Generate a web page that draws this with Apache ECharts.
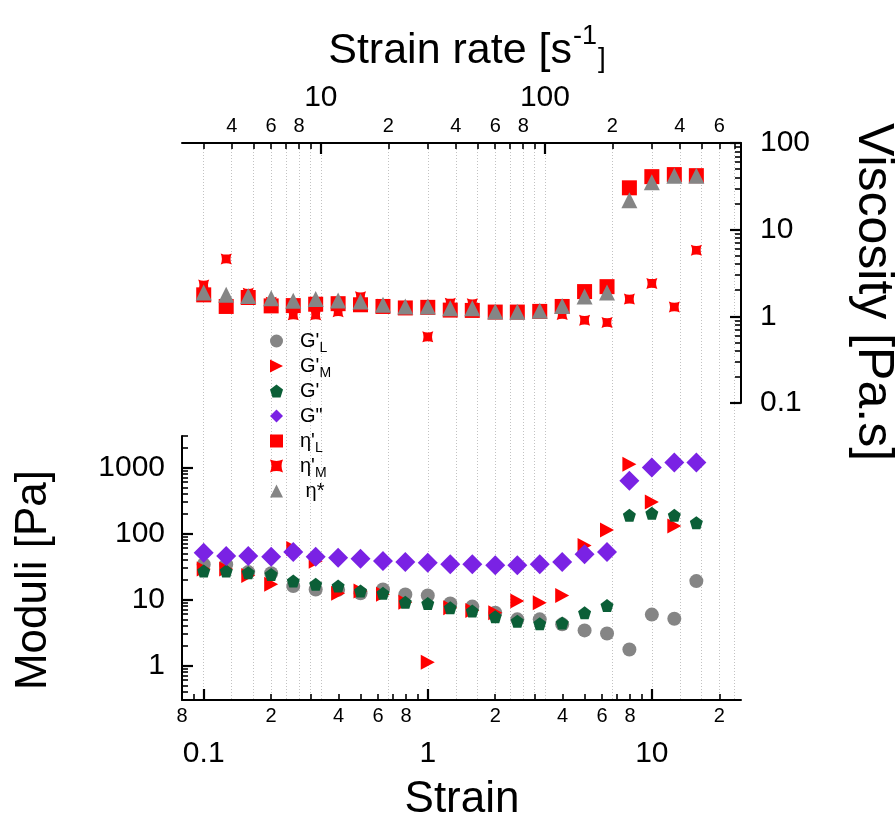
<!DOCTYPE html>
<html>
<head>
<meta charset="utf-8">
<script src="https://cdn.jsdelivr.net/npm/echarts@6/dist/echarts.min.js"></script>
<style>html,body{margin:0;padding:0;background:#fff}#c{width:895px;height:819px}</style>
</head>
<body>
<div id="c"></div>
<script>
// ---------------- data ----------------
const strain = [0.1,0.126,0.158,0.2,0.251,0.316,0.398,0.501,0.631,0.794,1.0,1.26,1.58,2.0,2.51,3.16,3.98,5.01,6.31,7.94,10.0,12.6,15.8];
const storageL = [34,34,26,25,16,14.2,14,12.4,14.2,11.9,11.5,8.7,7.8,6.3,5.0,5.0,4.2,3.4,3.06,1.75,5.9,5.1,19];
const storageM = [29,29,23,17,59,38,12.4,13.4,12,9.1,1.12,7.5,6.8,6.3,9.5,8.9,11.5,66,113,1120,301,130,null];
const storage = [27,27,25.5,24,19,17,16,13.4,12.4,9.1,8.7,7.5,6.7,5.5,4.7,4.3,4.4,6.3,8.1,189,203,189,146];
const loss = [51,45.6,45.6,44.6,52.5,44.6,43,41.6,38.3,37,36.1,34.1,34.1,32.9,32.9,34.1,37,48.3,52.5,627,1000,1190,1190];
const etaL = [1.77,1.30,1.65,1.32,1.33,1.38,1.40,1.36,1.30,1.25,1.27,1.18,1.17,1.12,1.12,1.14,1.30,1.93,2.2,30.4,40.9,43.2,42];
const etaM = [2.3,4.6,1.85,1.45,1.04,1.04,1.13,1.68,1.38,1.28,0.58,1.42,1.40,1.15,1.13,1.16,1.05,0.90,0.85,1.58,2.4,1.28,5.8];
const etaStar = [1.88,1.77,1.72,1.62,1.51,1.58,1.52,1.48,1.36,1.30,1.30,1.24,1.24,1.14,1.13,1.16,1.32,1.69,1.88,21.8,35.3,42,42];

const seriesNames = ["G'L", "G'M", "G'", 'G"', "η'L", "η'M", "η*"];

// ---------------- axes / ticks ----------------
const strainMin = 0.08, strainMax = 25;
const ratePerStrain = 30;
const viscMin = 0.1, viscMax = 100;
const moduliMin = 0.3, moduliMax = 3000;

const strainMinorTicks = [0.08,0.09,0.2,0.3,0.4,0.5,0.6,0.7,0.8,0.9,2,3,4,5,6,7,8,9,20];
const strainMajorTicks = [0.1,1,10];
const strainSmallLabelAt = [0.08,0.2,0.4,0.6,0.8,2,4,6,8,20];
const strainSmallLabels = ['8','2','4','6','8','2','4','6','8','2'];
const strainBigLabels = ['0.1','1','10'];

const rateMinorTicks = [3,4,5,6,7,8,9,20,30,40,50,60,70,80,90,200,300,400,500,600,700];
const rateMajorTicks = [10,100];
const rateSmallLabelAt = [4,6,8,20,40,60,80,200,400,600];
const rateSmallLabels = ['4','6','8','2','4','6','8','2','4','6'];
const rateBigLabels = ['10','100'];

const moduliMinorTicks = [0.3,0.4,0.5,0.6,0.7,0.8,0.9,2,3,4,5,6,7,8,9,20,30,40,50,60,70,80,90,200,300,400,500,600,700,800,900,2000,3000];
const moduliMajorTicks = [1,10,100,1000];
const moduliLabels = ['1','10','100','1000'];

const viscMinorTicks = [0.2,0.3,0.4,0.5,0.6,0.7,0.8,0.9,2,3,4,5,6,7,8,9,20,30,40,50,60,70,80,90];
const viscMajorTicks = [0.1,1,10,100];
const viscLabels = ['0.1','1','10','100'];

// ---------------- build ----------------
const FF = "'Liberation Sans', Arial, Helvetica, sans-serif";
const L = Math.log10;
const rateToStrainLog = r => L(r / ratePerStrain);

function fmt(pos, texts) {
  return function (v) {
    for (let i = 0; i < pos.length; i++) if (Math.abs(pos[i] - v) < 1e-6) return texts[i];
    return '';
  };
}

const G_TOP = {left: 182, top: 143, width: 559, height: 260};
const G_BOT = {left: 182, top: 436, width: 559, height: 264};
const G_ALL = {left: 182, top: 143, width: 559, height: 557};

function deco(o) {
  return {
    type: 'value', min: o.min, max: o.max, gridIndex: o.grid, position: o.position,
    axisLine: {show: !!o.line, onZero: false, lineStyle: {color: '#000', width: 2}},
    axisTick: {show: !!o.ticks, inside: true, length: o.len || 6, customValues: o.ticks || o.grid_ticks,
      lineStyle: {color: '#000', width: o.tw || 1.6}},
    axisLabel: o.labels ? {show: true, customValues: o.labels, formatter: fmt(o.labels, o.texts),
      color: '#000', fontFamily: FF, fontSize: o.fs, margin: o.margin, showMinLabel: true, showMaxLabel: true, hideOverlap: false}
      : {show: false},
    splitLine: o.split ? {show: true, lineStyle: {color: '#c2c2c2', width: 1, type: [1, 2]}} : {show: false},
    splitArea: {show: false},
    minorTick: {show: false}, minorSplitLine: {show: false}
  };
}

const xs = [L(strainMin), L(strainMax)];
const gridLinesPos = rateMinorTicks.concat(rateMajorTicks).map(rateToStrainLog);

const xAxis = [
  {type: 'log', gridIndex: 0, min: strainMin, max: strainMax, show: false, axisLine: {onZero: false}},
  {type: 'log', gridIndex: 1, min: strainMin, max: strainMax, show: false, axisLine: {onZero: false}},
  deco({grid: 2, min: xs[0], max: xs[1], position: 'bottom', line: true, ticks: strainMinorTicks.map(L), len: 6,
        labels: strainSmallLabelAt.map(L), texts: strainSmallLabels, fs: 20, margin: 6}),
  deco({grid: 2, min: xs[0], max: xs[1], position: 'bottom', ticks: strainMajorTicks.map(L), len: 11, tw: 2.2,
        labels: strainMajorTicks.map(L), texts: strainBigLabels, fs: 30, margin: 39}),
  deco({grid: 2, min: xs[0], max: xs[1], position: 'top', line: true, ticks: rateMinorTicks.map(rateToStrainLog), len: 6,
        labels: rateSmallLabelAt.map(rateToStrainLog), texts: rateSmallLabels, fs: 20, margin: 7}),
  deco({grid: 2, min: xs[0], max: xs[1], position: 'top', ticks: rateMajorTicks.map(rateToStrainLog), len: 11, tw: 2.2,
        labels: rateMajorTicks.map(rateToStrainLog), texts: rateBigLabels, fs: 30, margin: 30}),
  deco({grid: 2, min: xs[0], max: xs[1], position: 'bottom', grid_ticks: gridLinesPos, split: true})
];

const yAxis = [
  {type: 'log', gridIndex: 0, min: viscMin, max: viscMax, position: 'right', show: false, axisLine: {onZero: false}},
  {type: 'log', gridIndex: 1, min: moduliMin, max: moduliMax, position: 'left', show: false, axisLine: {onZero: false}},
  deco({grid: 0, min: L(viscMin), max: L(viscMax), position: 'right', line: true, ticks: viscMinorTicks.map(L), len: 6}),
  deco({grid: 0, min: L(viscMin), max: L(viscMax), position: 'right', ticks: viscMajorTicks.map(L), len: 11, tw: 2.2,
        labels: viscMajorTicks.map(L), texts: viscLabels, fs: 30, margin: 19}),
  deco({grid: 1, min: L(moduliMin), max: L(moduliMax), position: 'left', line: true, ticks: moduliMinorTicks.map(L), len: 6}),
  deco({grid: 1, min: L(moduliMin), max: L(moduliMax), position: 'left', ticks: moduliMajorTicks.map(L), len: 11, tw: 2.2,
        labels: moduliMajorTicks.map(L), texts: moduliLabels, fs: 30, margin: 17}),
  {type: 'value', gridIndex: 2, min: 0, max: 1, show: false, axisLine: {onZero: false}}
];

function pts(ys) {
  const out = [];
  strain.forEach((x, i) => { if (ys[i] != null) out.push([x, ys[i]]); });
  return out;
}

const RED = '#ff0000', GRAY = '#858585', GREEN = '#0b5f37', PURPLE = '#7a22e4';
const PENTAGON = 'path://M5,0 L10,3.8 L8.1,10 L1.9,10 L0,3.8 Z';
const STAR4 = 'path://M0,0 Q5,2.2 10,0 Q7.8,5 10,10 Q5,7.8 0,10 Q2.2,5 0,0 Z';
const RIGHT_TRI = 'path://M0,0 L10,5 L0,10 Z';

function sc(name, ys, panel, symbol, size, color, extra) {
  return Object.assign({
    name, type: 'scatter', xAxisIndex: panel, yAxisIndex: panel, data: pts(ys),
    symbol, symbolSize: size, itemStyle: {color, opacity: 1}, emphasis: {disabled: true}, silent: true, clip: false
  }, extra || {});
}

const series = [
  sc(seriesNames[0], storageL, 1, 'circle', 14, GRAY),
  sc(seriesNames[1], storageM, 1, RIGHT_TRI, [14, 15], RED),
  sc(seriesNames[2], storage, 1, PENTAGON, 13, GREEN),
  sc(seriesNames[3], loss, 1, 'diamond', 20, PURPLE),
  sc(seriesNames[4], etaL, 0, 'rect', 15, RED),
  sc(seriesNames[5], etaM, 0, STAR4, 11, RED),
  sc(seriesNames[6], etaStar, 0, 'triangle', 16, GRAY)
];

const legendText = {
  "G'L": "{p| }{m|G'}{s|L}",
  "G'M": "{p| }{m|G'}{s|M}",
  "G'": "{p| }{m|G'}{s| }",
  'G"': '{p| }{m|G"}{s| }',
  "η'L": "{p| }{m|η'}{s|L}",
  "η'M": "{p| }{m|η'}{s|M}",
  "η*": "{p| }{m| η*}{s| }"
};

const option = {
  animation: false,
  backgroundColor: '#fff',
  grid: [
    Object.assign({containLabel: false, outerBoundsMode: 'none'}, G_TOP),
    Object.assign({containLabel: false, outerBoundsMode: 'none'}, G_BOT),
    Object.assign({containLabel: false, outerBoundsMode: 'none'}, G_ALL)
  ],
  xAxis, yAxis, series,
  legend: {
    orient: 'vertical', left: 265, top: 326, itemWidth: 13, itemHeight: 13, itemGap: 1,
    selectedMode: false, data: seriesNames,
    formatter: n => legendText[n],
    textStyle: {
      color: '#000', fontFamily: FF, fontSize: 20,
      rich: {
        p: {width: 12, fontSize: 10},
        m: {fontSize: 20, lineHeight: 20, verticalAlign: 'top', color: '#000', fontFamily: FF},
        s: {fontSize: 14, lineHeight: 14, padding: [10, 0, 0, 0], verticalAlign: 'top', color: '#000', fontFamily: FF}
      }
    }
  },
  graphic: [
    {type: 'text', x: 467, y: 48, silent: true,
     style: {text: '{a|Strain rate [s}{b|-1}{c|]}', align: 'center', verticalAlign: 'middle', fill: '#000',
       rich: {
         a: {fontSize: 43, lineHeight: 50, verticalAlign: 'bottom', fontFamily: FF, fill: '#000'},
         b: {fontSize: 27, lineHeight: 22, padding: [0, 1, 34, 1], verticalAlign: 'top', fontFamily: FF, fill: '#000'},
         c: {fontSize: 28, lineHeight: 28, verticalAlign: 'bottom', fontFamily: FF, fill: '#000'}
       }}},
    {type: 'text', x: 462, y: 800, silent: true,
     style: {text: 'Strain', align: 'center', verticalAlign: 'middle', fill: '#000', font: '44px ' + FF}},
    {type: 'text', x: 34, y: 580, rotation: Math.PI / 2, silent: true,
     style: {text: 'Moduli [Pa]', align: 'center', verticalAlign: 'middle', fill: '#000', font: '44px ' + FF}},
    {type: 'text', x: 873, y: 292, rotation: -Math.PI / 2, silent: true,
     style: {text: 'Viscosity [Pa.s]', align: 'center', verticalAlign: 'middle', fill: '#000', font: '50px ' + FF}}
  ]
};

const chart = echarts.init(document.getElementById('c'), null, {renderer: 'canvas'});
chart.setOption(option);
</script>
</body>
</html>
